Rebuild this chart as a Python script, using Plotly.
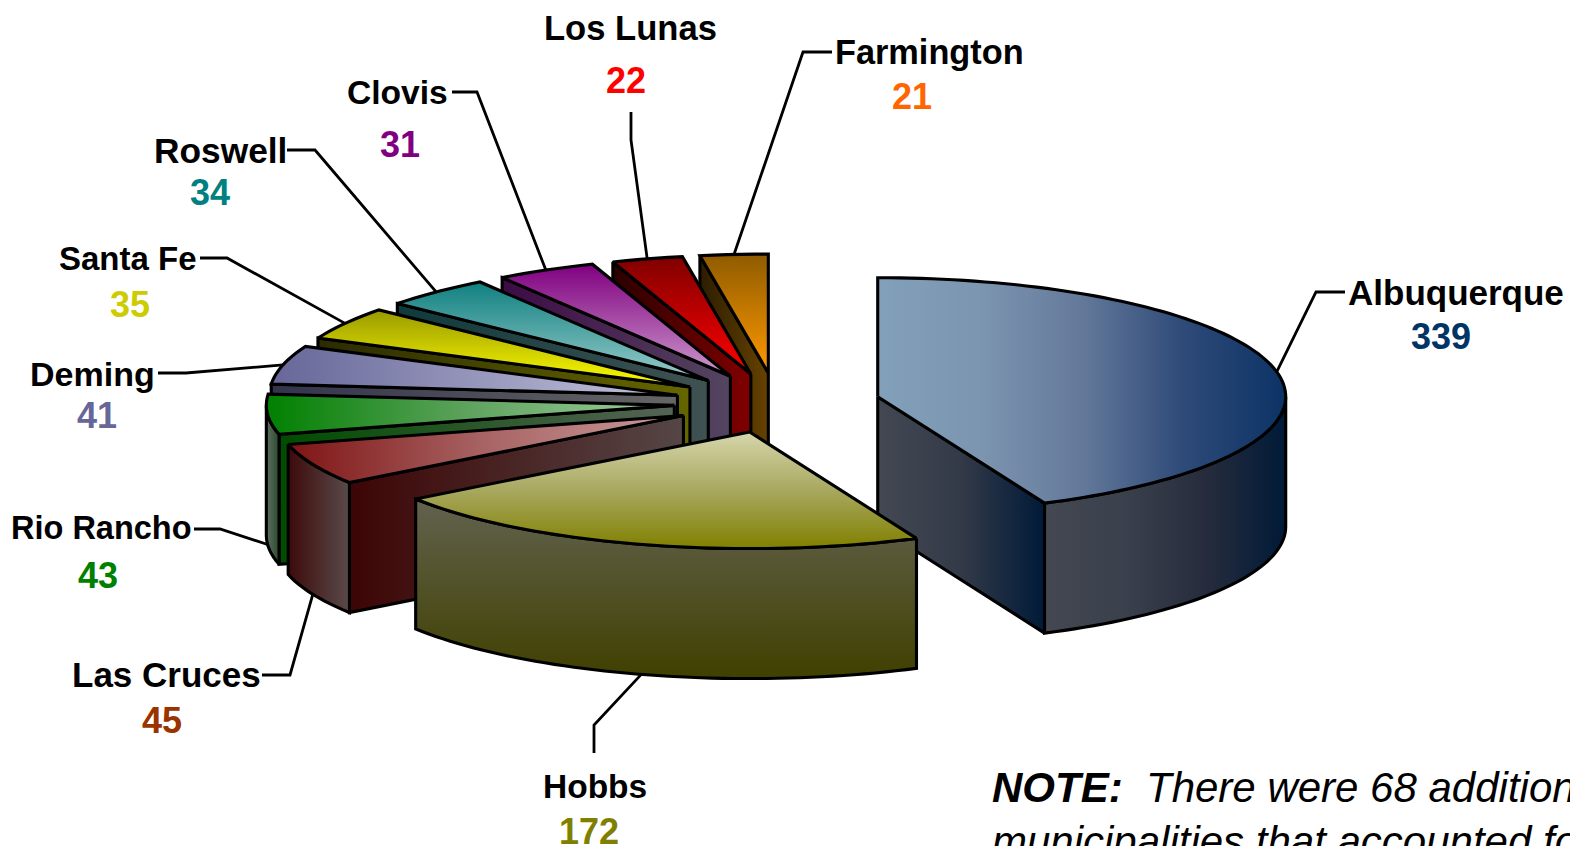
import math
import numpy as np
import plotly.graph_objects as go

# ---- data ----
cities = ["Albuquerque", "Hobbs", "Las Cruces", "Rio Rancho", "Deming",
          "Santa Fe", "Roswell", "Clovis", "Los Lunas", "Farmington"]
counts = [339, 172, 45, 43, 41, 35, 34, 31, 22, 21]

# ---- styles ----
value_colors = ["#003366", "#808000", "#993300", "#008000", "#666699",
                "#CCCC00", "#008080", "#800080", "#FF0000", "#FF6600"]
# vertical gradients run bottom (0) to top (1) in this renderer
top_grad = [("horizontal", ["#82A0BA", "#7C95B0", "#64799A", "#2E4A78", "#0C3366"]),
            ("vertical", ["#808000", "#A8A860", "#D6D6AC"]),
            ("horizontal", ["#801414", "#A86464", "#CC9C9C"]),
            ("horizontal", ["#008000", "#5FA35F", "#A0D0A0"]),
            ("horizontal", ["#666699", "#9696BC", "#C4C4DC"]),
            ("vertical", ["#FFFF00", "#999900"]),
            ("vertical", ["#99CCCC", "#108080"]),
            ("vertical", ["#CC99CC", "#800080"]),
            ("vertical", ["#FF0000", "#800000"]),
            ("vertical", ["#FF9900", "#8F5B00"])]
wall_grad = [("horizontal", ["#434852", "#333A48", "#001A38"]),
             ("vertical", ["#404000", "#62624F"]),
             ("horizontal", ["#3D0505", "#564646"]),
             ("horizontal", ["#004C00", "#566356"]),
             ("horizontal", ["#33334D", "#666666"]),
             ("horizontal", ["#2B2B00", "#666600"]),
             ("horizontal", ["#0F3A3C", "#405252"]),
             ("horizontal", ["#3D0B45", "#544560"]),
             ("horizontal", ["#2A0000", "#800000"]),
             ("horizontal", ["#2C1D00", "#664200"])]
outer_grad = [("horizontal", ["#434852", "#3A404C", "#262C3C", "#001A38"]),
              ("vertical", ["#404000", "#62624F"]),
              ("horizontal", ["#3D0A0A", "#5A4A4A"]),
              ("horizontal", ["#5F6F60", "#2A4A2C"]),
              None, None, None, None, None, None]

CX, CY, EXPLODE, RX, RY, DEPTH = 777, 403, 103, 408, 119, 130
FRONT = 0.98
LINE = 3.1

# label layout: label centre, value centre, leader start, leader elbow
label_xy = [(1456, 292), (595, 786), (166, 674), (101, 528), (92, 374),
            (128, 258), (220, 150), (397, 92), (630, 28), (929, 52)]
label_size = [35, 33.5, 35, 32.5, 34, 33, 35.3, 33.6, 34.6, 34.3]
value_xy = [(1441, 336), (589, 831), (162, 720), (98, 575), (97, 415),
            (130, 304), (210, 192), (400, 144), (626, 80), (912, 96)]
leader_start = [(1345, 292), (594, 753), (262, 675), (194, 529), (158, 373),
                (200, 258), (287, 150), (452, 92), (631, 112), (832, 52)]
leader_elbow = [(1316, 292), (594, 725), (290, 675), (220, 529), (186, 373),
                (227, 258), (315, 150), (477, 92), (631, 140), (803, 52)]

fig = go.Figure()


def face(xs, ys, grad):
    kind, colors = grad
    stops = [[k / (len(colors) - 1), c] for k, c in enumerate(colors)]
    fig.add_trace(go.Scatter(
        x=xs, y=ys, mode="lines", fill="toself",
        fillgradient=dict(type=kind, colorscale=stops),
        line=dict(color="black", width=LINE, simplify=False),
        hoverinfo="skip", showlegend=False))


total = sum(counts)
angles = np.cumsum([0] + counts) / total * 360.0
geom = []
for i in range(len(counts)):
    a0, a1 = angles[i], angles[i + 1]
    mid = math.radians((a0 + a1) / 2)
    ax = CX + EXPLODE * math.sin(mid)
    ay = CY - EXPLODE * RY / RX * math.cos(mid)
    geom.append((a0, a1, ax, ay))


def rim(ax, ay, deg):
    t = np.radians(deg)
    c = np.cos(t)
    return ax + RX * np.sin(t), ay - RY * np.where(c < 0, FRONT, 1.0) * c


# back-to-front painting: the largest slice first, then Farmington round to Hobbs
order = [0] + list(range(len(counts) - 1, 0, -1))
for i in order:
    a0, a1, ax, ay = geom[i]
    # radial side walls
    for edge, visible in ((a0, math.sin(math.radians(a0)) < -1e-6),
                          (a1, math.sin(math.radians(a1)) > 1e-6)):
        if visible:
            ex, ey = rim(ax, ay, edge)
            face([ax, float(ex), float(ex), ax, ax],
                 [ay, float(ey), float(ey) + DEPTH, ay + DEPTH, ay], wall_grad[i])
    # outer cylindrical wall
    lo, hi = max(a0, 90), min(a1, 270)
    if hi > lo and outer_grad[i]:
        deg = np.linspace(lo, hi, max(int((hi - lo) / 1.5), 2))
        rx_, ry_ = rim(ax, ay, deg)
        face(list(rx_) + list(rx_[::-1]) + [rx_[0]],
             list(ry_) + list(ry_[::-1] + DEPTH) + [ry_[0]], outer_grad[i])
    # top
    deg = np.linspace(a0, a1, max(int((a1 - a0) / 1.5), 2))
    rx_, ry_ = rim(ax, ay, deg)
    face([ax] + list(rx_) + [ax], [ay] + list(ry_) + [ay], top_grad[i])

# leader lines, ending on the rim at each slice's mid angle
for i in range(len(counts)):
    a0, a1, ax, ay = geom[i]
    m = (a0 + a1) / 2
    ex, ey = rim(ax, ay, m)
    if 90 < m < 270:
        ey = ey + DEPTH
    fig.add_trace(go.Scatter(
        x=[leader_start[i][0], leader_elbow[i][0], float(ex)],
        y=[leader_start[i][1], leader_elbow[i][1], float(ey)],
        mode="lines", line=dict(color="black", width=2.8),
        hoverinfo="skip", showlegend=False))

annotations = []
for i, city in enumerate(cities):
    annotations.append(dict(x=label_xy[i][0], y=label_xy[i][1], text=f"<b>{city}</b>",
                            showarrow=False, xanchor="center", yanchor="middle",
                            font=dict(family="Liberation Sans", size=label_size[i], color="black")))
    annotations.append(dict(x=value_xy[i][0], y=value_xy[i][1], text=f"<b>{counts[i]}</b>",
                            showarrow=False, xanchor="center", yanchor="middle",
                            font=dict(family="Liberation Sans", size=36, color=value_colors[i])))

note_lines = ["<b><i>NOTE:</i></b>\u00a0\u00a0<i>There were 68 additional</i>",
              "<i>municipalities that accounted for</i>"]
for text, y in zip(note_lines, (787, 841)):
    annotations.append(dict(x=990, y=y, text=text, showarrow=False, xanchor="left",
                            yanchor="middle", align="left",
                            font=dict(family="Liberation Sans", size=42, color="black")))

fig.update_layout(
    width=1570, height=846, margin=dict(l=0, r=0, t=0, b=0),
    paper_bgcolor="white", plot_bgcolor="white", showlegend=False,
    xaxis=dict(range=[0, 1570], visible=False, fixedrange=True),
    yaxis=dict(range=[846, 0], visible=False, fixedrange=True),
    annotations=annotations)

fig.write_html("out.html", post_script="document.body.style.margin='0';document.body.style.overflow='hidden';",
               config={"displayModeBar": False})
